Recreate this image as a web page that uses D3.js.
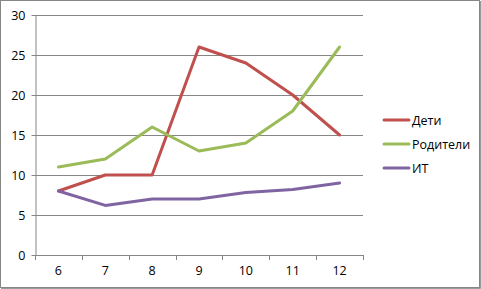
<!DOCTYPE html>
<html><head><meta charset="utf-8">
<script src="https://cdn.jsdelivr.net/npm/d3@7"></script>
<style>body{margin:0;background:#fff}svg{display:block}</style>
</head><body>
<script>
const categories = ["6","7","8","9","10","11","12"];
const seriesNames = ["Дети","Родители","ИТ"];
const detiValues = [8,10,10,26,24,20,15];
const roditeliValues = [11,12,16,13,14,18,26];
const itValues = [8,6.2,7,7,7.8,8.2,9];
const yTicks = [0,5,10,15,20,25,30];
const colors = ["#C0504D","#9BBB59","#8064A2"];
const series = [detiValues, roditeliValues, itValues];

const W=481,H=289;
const svg=d3.select("body").append("svg").attr("width",W).attr("height",H);
svg.append("rect").attr("x",0.5).attr("y",0.5).attr("width",479).attr("height",287)
  .attr("fill","#fff").attr("stroke","#868686");
svg.append("path").attr("d","M480.5,1V288.5H1").attr("fill","none").attr("stroke","#9a9a9a");
const L=35,R=363,T=15,B=255;
const x=d3.scaleBand().domain(categories).range([L,R]);
const y=d3.scaleLinear().domain([0,30]).range([B,T]);
const font="'Open Sans', 'DejaVu Sans', sans-serif";

// gridlines
svg.append("g").selectAll("line").data(yTicks.filter(d=>d>0)).join("line")
  .attr("x1",L).attr("x2",R).attr("y1",d=>y(d)+0.5).attr("y2",d=>y(d)+0.5)
  .attr("stroke","#868686").attr("stroke-width",1);

const ya=svg.append("g").attr("transform",`translate(${L+0.5},0)`)
  .call(d3.axisLeft(y).tickValues(yTicks).tickSize(4).tickPadding(6).tickSizeOuter(0));
const xa=svg.append("g").attr("transform",`translate(0,${B+0.5})`)
  .call(d3.axisBottom(x).tickSize(0).tickPadding(11));
// x tick marks at band boundaries
const bounds=categories.map(c=>x(c)).concat([R]);
svg.append("g").selectAll("line").data(bounds).join("line")
  .attr("x1",d=>Math.round(d)+0.5).attr("x2",d=>Math.round(d)+0.5)
  .attr("y1",B).attr("y2",B+5).attr("stroke","#868686");
[ya,xa].forEach(a=>{
  a.selectAll(".domain").attr("stroke","#868686");
  a.selectAll(".tick line").attr("stroke","#868686");
  a.selectAll("text").attr("font-family",font).attr("font-size",12.5).attr("fill","#000");
});
xa.select(".domain").attr("d",`M${L},0H${R}`);

const line=d3.line().x((d,i)=>x(categories[i])+x.bandwidth()/2).y(d=>y(d));
series.forEach((s,k)=>{
  svg.append("path").datum(s).attr("d",line).attr("fill","none")
    .attr("stroke",colors[k]).attr("stroke-width",3).attr("stroke-linejoin","round").attr("stroke-linecap","round");
});

// legend
const lg=svg.append("g");
seriesNames.forEach((n,k)=>{
  const yy=120+k*24;
  lg.append("line").attr("x1",384).attr("x2",409).attr("y1",yy).attr("y2",yy)
    .attr("stroke",colors[k]).attr("stroke-width",3).attr("stroke-linecap","round");
  lg.append("text").attr("x",412).attr("y",yy+4.5).text(n)
    .attr("font-family",font).attr("font-size",12.5).attr("fill","#000");
});
</script>
</body></html>
